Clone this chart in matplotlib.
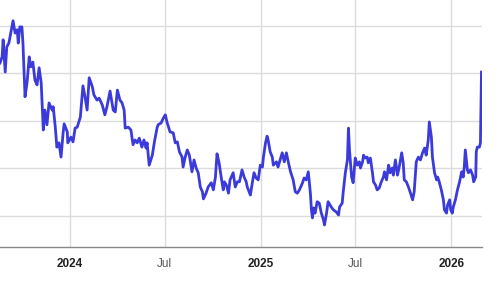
import pandas as pd
import matplotlib
matplotlib.use("Agg")
import matplotlib.pyplot as plt

# series: days after start date, closing value
start = "2023-08-20"
days = [0, 4, 6, 10, 13, 17, 25, 29, 33, 35, 38, 42, 44, 48, 52, 56, 59, 63, 67, 71,
        75, 79, 83, 86, 90, 94, 100, 102, 106, 109, 113, 117, 121, 123, 129, 130, 136, 140, 144, 148,
        154, 159, 163, 167, 171, 177, 180, 186, 190, 196, 201, 205, 211, 217, 221, 225, 230, 234, 238, 240,
        246, 251, 255, 259, 263, 267, 272, 276, 280, 282, 286, 292, 296, 301, 303, 309, 313, 317, 320, 326,
        332, 336, 340, 344, 349, 351, 355, 359, 363, 368, 372, 376, 380, 384, 388, 390, 395, 399, 405, 409,
        413, 416, 420, 424, 428, 430, 434, 438, 441, 447, 451, 455, 459, 464, 468, 472, 474, 480, 484, 487,
        491, 495, 499, 503, 505, 509, 512, 514, 518, 522, 524, 530, 533, 537, 541, 545, 549, 553, 557, 562,
        566, 570, 574, 580, 583, 587, 591, 595, 597, 599, 601, 604, 608, 612, 616, 620, 622, 626, 629, 635,
        639, 645, 649, 651, 656, 658, 662, 666, 668, 670, 674, 677, 679, 681, 685, 689, 691, 695, 697, 700,
        704, 706, 710, 714, 716, 720, 723, 727, 731, 735, 737, 741, 745, 748, 752, 754, 758, 762, 766, 770,
        773, 775, 779, 783, 787, 791, 794, 798, 802, 806, 810, 814, 817, 821, 823, 827, 829, 833, 837, 839,
        842, 846, 850, 852, 856, 858, 862, 864, 867, 869, 873, 877, 881, 885, 888, 890, 892, 896, 898, 902,
        906, 908, 912, 913, 915, 919, 921, 923]
values = [42.2, 43.5, 47.1, 40.3, 45.6, 46.4, 51.1, 48.5, 49.2, 46.4, 49.8, 49.8, 46.4, 35.1, 38.2, 43.5, 41.4, 42.4, 38.6, 37.6,
          41.2, 38.0, 28.1, 32.3, 29.2, 33.8, 32.3, 33.0, 28.7, 24.5, 25.4, 22.4, 27.5, 29.4, 27.7, 25.4, 26.6, 25.6, 28.5, 28.7,
          30.8, 37.4, 35.1, 32.3, 39.1, 37.2, 35.5, 34.4, 34.8, 33.4, 31.3, 33.0, 36.3, 32.3, 31.9, 36.5, 34.4, 33.8, 32.3, 28.5,
          28.7, 28.1, 25.0, 26.0, 25.4, 26.4, 24.5, 26.0, 24.3, 25.4, 20.7, 22.8, 25.6, 28.5, 29.2, 29.6, 30.6, 31.3, 29.8, 27.7,
          27.5, 25.4, 25.6, 23.5, 22.4, 20.3, 22.4, 23.9, 22.8, 19.3, 21.8, 20.1, 19.1, 16.1, 15.1, 13.6, 14.8, 16.1, 17.0, 15.5,
          18.2, 23.1, 21.2, 18.2, 15.5, 17.2, 16.5, 14.8, 17.6, 19.1, 16.1, 17.2, 17.2, 19.7, 18.2, 17.2, 16.1, 14.4, 17.2, 19.1,
          18.0, 17.6, 20.7, 20.3, 22.4, 25.4, 26.8, 26.0, 23.5, 22.4, 20.7, 21.4, 20.3, 21.8, 23.3, 21.4, 23.3, 21.2, 19.3, 17.6,
          15.1, 14.8, 15.5, 17.0, 18.0, 17.6, 19.3, 14.8, 11.3, 9.6, 11.7, 10.6, 13.0, 12.7, 10.6, 9.2, 8.1, 10.6, 13.0, 11.9,
          11.3, 10.8, 10.2, 11.9, 12.7, 15.1, 19.1, 21.8, 28.5, 23.9, 18.2, 17.0, 19.7, 22.2, 20.7, 21.4, 20.1, 21.4, 22.8, 22.2,
          22.4, 21.2, 22.2, 19.1, 17.2, 16.5, 15.5, 15.9, 17.2, 18.2, 19.3, 17.6, 20.7, 19.1, 20.1, 18.6, 21.8, 18.6, 20.7, 23.3,
          21.2, 17.6, 17.2, 16.1, 14.8, 13.4, 15.1, 21.4, 22.4, 21.8, 23.3, 24.3, 22.8, 26.0, 29.8, 26.6, 22.4, 19.1, 17.6, 18.2,
          17.2, 15.5, 13.4, 11.3, 10.6, 12.3, 13.4, 11.3, 10.6, 11.9, 13.4, 15.5, 17.2, 19.3, 18.2, 20.3, 23.9, 19.7, 19.1, 19.7,
          18.6, 17.2, 18.2, 23.5, 24.5, 24.5, 25.4, 40.3]

grid_values = [10, 20, 30, 40, 50]
tick_dates = ["2024-01-01", "2024-07-01", "2025-01-01", "2025-07-01", "2026-01-01"]
tick_labels = ["2024", "Jul", "2025", "Jul", "2026"]

dates = pd.to_datetime(start) + pd.to_timedelta(days, unit="D")

fig = plt.figure(figsize=(5.0, 2.81), dpi=100)
ax = fig.add_axes([0.0, 0.121, 0.964, 0.879])

ax.plot(dates, values, color="#3b3bdc", linewidth=2.0, zorder=3,
        solid_joinstyle="round")

ax.set_xlim(pd.to_datetime(start), pd.to_datetime(start) + pd.Timedelta(days=924))
ax.set_ylim(3.47, 55.47)

# grid
ax.set_yticks(grid_values)
ax.set_xticks(pd.to_datetime(tick_dates))
ax.grid(True, color="#dcdcdc", linewidth=1.0, zorder=0)
ax.tick_params(axis="y", length=0, labelleft=False)
ax.tick_params(axis="x", length=0, pad=8)
ax.set_xticklabels(tick_labels, fontfamily="Liberation Sans", fontsize=8.5)
for lbl, txt in zip(ax.get_xticklabels(), tick_labels):
    if txt == "Jul":
        lbl.set_color("#555555")
    else:
        lbl.set_color("#222222")
        lbl.set_fontweight("bold")

for side in ["left", "right", "top"]:
    ax.spines[side].set_visible(False)
ax.spines["bottom"].set_color("#888888")
ax.spines["bottom"].set_linewidth(1.0)

plt.savefig("out.png", dpi=100)
plt.close()
